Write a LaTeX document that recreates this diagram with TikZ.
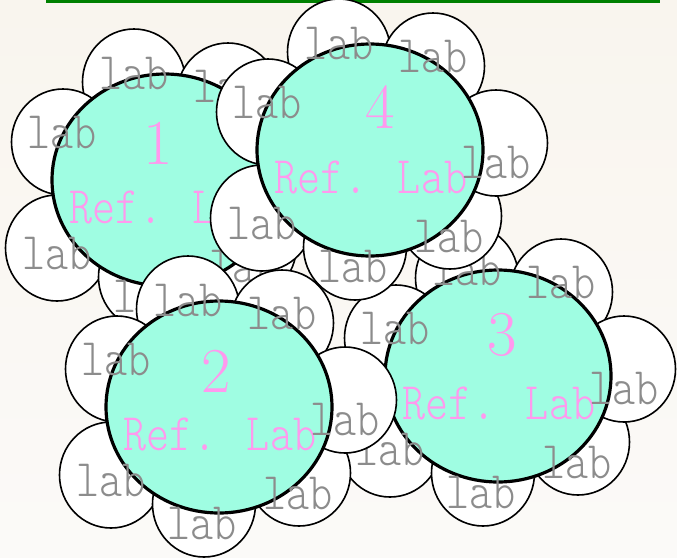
\documentclass[tikz,border=0pt]{standalone}
\usepackage{fontspec}
\usepackage{graphicx}
\usetikzlibrary{shapes.geometric}
\newfontfamily\lightmono{Latin Modern Mono Light}
\definecolor{petal}{RGB}{159,253,226}
\definecolor{labgray}{RGB}{140,140,140}
\definecolor{refpink}{RGB}{255,153,238}
\definecolor{bgtop}{RGB}{249,245,238}
\definecolor{bgbot}{RGB}{251,250,248}
\definecolor{topline}{RGB}{0,128,0}
\tikzset{
  sat/.style={ellipse, draw=black, line width=1.6pt, fill=white, minimum width=103pt, minimum height=106pt, inner sep=0pt},
  bigc/.style={ellipse, draw=black, line width=3.2pt, fill=petal, minimum width=226pt, minimum height=212pt, inner sep=0pt},
  labt/.style={inner sep=0pt, text=labgray, font=\fontsize{44}{44}\selectfont\lightmono},
  reft/.style={inner sep=0pt, text=refpink, font=\fontsize{44}{44}\selectfont\lightmono},
  digt/.style={inner sep=0pt, text=refpink, font=\fontsize{64}{64}\selectfont\rmfamily},
}
\newcommand\tallt[1]{\scalebox{1}[1.2]{#1}}
% #1 name, #2 x, #3 y, #4 digit, #5 digit x, #6 digit y
\newcommand\drawflower[6]{%
  \node[sat] (#1a) at (#2-31,#3-98) {};
  \node[sat] (#1b) at (#2+63,#3-84) {};
  \node[sat] (#1c) at (#2-102,#3-38) {};
  \node[sat] (#1d) at (#2-108,#3+68) {};
  \node[sat] (#1e) at (#2-15,#3+97) {};
  \node[sat] (#1f) at (#2+80,#3+66) {};
  \node[sat] (#1g) at (#2+126,#3-7) {};
  \node[bigc] (#1) at (#2,#3) {};
  \node[digt] (#1n) at (#5,#6) {#4};
  \node[reft] (#1r) at (#2+1,#3+27) {\tallt{Ref. Lab}};
  \node[labt] (#1ta) at (#2-31,#3-106) {\tallt{lab}};
  \node[labt] (#1tb) at (#2+63,#3-93) {\tallt{lab}};
  \node[labt] (#1tc) at (#2-103,#3-47) {\tallt{lab}};
  \node[labt] (#1td) at (#2-108,#3+74) {\tallt{lab}};
  \node[labt] (#1te) at (#2-17,#3+117) {\tallt{lab}};
  \node[labt] (#1tf) at (#2+79,#3+87) {\tallt{lab}};
  \node[labt] (#1tg) at (#2+126,#3+13) {\tallt{lab}};
}
\begin{document}
\begin{tikzpicture}[x=1pt,y=-1pt]
  \useasboundingbox (0,0) rectangle (677,557);
  \shade[top color=bgtop, middle color=white, bottom color=bgbot] (0,0) rectangle (677,557);
  \draw[topline, line width=3pt] (46,1.5) -- (660,1.5);
  \drawflower{gA}{165}{180}{1}{158}{143}
  \drawflower{gC}{498}{376}{3}{502}{335}
  \drawflower{gB}{219}{407}{2}{216}{371}
  \drawflower{gD}{370}{150}{4}{380}{107}
\end{tikzpicture}
\end{document}
